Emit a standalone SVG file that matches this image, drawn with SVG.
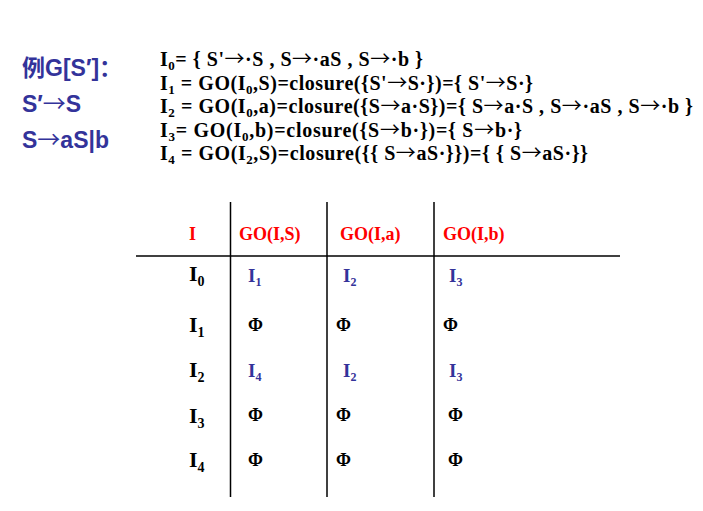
<svg xmlns="http://www.w3.org/2000/svg" width="703" height="511" viewBox="0 0 703 511">
<style>
.lt{font-family:"Liberation Sans",Arial,"Noto Sans CJK SC",sans-serif;font-weight:bold;font-size:23px;fill:#33339a}
.eq{font-family:"Liberation Serif","Times New Roman",serif;font-weight:bold;font-size:20px;fill:#000}
.ar{font-family:"Noto Sans CJK SC",sans-serif;font-weight:normal}
.sub{font-size:13px}
.hd{font-family:"Liberation Serif","Times New Roman",serif;font-weight:bold;font-size:18px;fill:#ff0000}
.rl{font-family:"Liberation Serif","Times New Roman",serif;font-weight:bold;font-size:22px;fill:#000}
.rs{font-size:14px}
.vi{font-family:"Liberation Serif","Times New Roman",serif;font-weight:bold;font-size:19px;fill:#33339a}
.vs{font-size:12px}
.ph{font-family:"Liberation Serif","Times New Roman",serif;font-weight:bold;font-size:18px;fill:#000}
.ln{stroke:#000;stroke-width:1.5;fill:none}
</style>
<rect width="703" height="511" fill="#fff"/>
<g id="grammar">
<text class="lt" x="22" y="76">例G[S′]：</text>
<text class="lt" x="22" y="112">S′<tspan class="ar">→</tspan>S</text>
<text class="lt" x="22" y="148">S<tspan class="ar">→</tspan>aS|b</text>
</g>
<g id="items">
<text class="eq" x="160" y="66" textLength="263" lengthAdjust="spacing">I<tspan class="sub" dy="4">0</tspan><tspan dy="-4">= { S'</tspan><tspan class="ar">→</tspan>·S , S<tspan class="ar">→</tspan>·aS , S<tspan class="ar">→</tspan>·b }</text>
<text class="eq" x="160" y="90" textLength="373" lengthAdjust="spacing">I<tspan class="sub" dy="4">1</tspan><tspan dy="-4"> = GO(I</tspan><tspan class="sub" dy="4">0</tspan><tspan dy="-4">,S)=closure({S'</tspan><tspan class="ar">→</tspan>S·})={ S'<tspan class="ar">→</tspan>S·}</text>
<text class="eq" x="160" y="113" textLength="533" lengthAdjust="spacing">I<tspan class="sub" dy="4">2</tspan><tspan dy="-4"> = GO(I</tspan><tspan class="sub" dy="4">0</tspan><tspan dy="-4">,a)=closure({S</tspan><tspan class="ar">→</tspan>a·S})={ S<tspan class="ar">→</tspan>a·S , S<tspan class="ar">→</tspan>·aS , S<tspan class="ar">→</tspan>·b }</text>
<text class="eq" x="160" y="137" textLength="362" lengthAdjust="spacing">I<tspan class="sub" dy="4">3</tspan><tspan dy="-4">= GO(I</tspan><tspan class="sub" dy="4">0</tspan><tspan dy="-4">,b)=closure({S</tspan><tspan class="ar">→</tspan>b·})={ S<tspan class="ar">→</tspan>b·}</text>
<text class="eq" x="160" y="160" textLength="428" lengthAdjust="spacing">I<tspan class="sub" dy="4">4</tspan><tspan dy="-4"> = GO(I</tspan><tspan class="sub" dy="4">2</tspan><tspan dy="-4">,S)=closure({{ S</tspan><tspan class="ar">→</tspan>aS·}})={ { S<tspan class="ar">→</tspan>aS·}}</text>
</g>
<g id="table-lines">
<line class="ln" x1="136" y1="256" x2="620" y2="256"/>
<line class="ln" x1="230.5" y1="202" x2="230.5" y2="497"/>
<line class="ln" x1="327" y1="202" x2="327" y2="497"/>
<line class="ln" x1="434" y1="202" x2="434" y2="497"/>
</g>
<g id="header">
<text class="hd" x="189" y="240">I</text>
<text class="hd" x="239" y="240">GO(I,S)</text>
<text class="hd" x="340" y="240">GO(I,a)</text>
<text class="hd" x="443" y="240">GO(I,b)</text>
</g>
<g id="row-labels">
<text class="rl" x="189" y="281">I<tspan class="rs" dy="5">0</tspan></text>
<text class="rl" x="189" y="332">I<tspan class="rs" dy="5">1</tspan></text>
<text class="rl" x="189" y="377">I<tspan class="rs" dy="5">2</tspan></text>
<text class="rl" x="189" y="423">I<tspan class="rs" dy="5">3</tspan></text>
<text class="rl" x="189" y="467">I<tspan class="rs" dy="5">4</tspan></text>
</g>
<g id="cells">
<text class="vi" x="248" y="282">I<tspan class="vs" dy="4">1</tspan></text>
<text class="vi" x="343" y="282">I<tspan class="vs" dy="4">2</tspan></text>
<text class="vi" x="449" y="282">I<tspan class="vs" dy="4">3</tspan></text>
<text class="ph" x="248" y="331">Φ</text>
<text class="ph" x="336" y="331">Φ</text>
<text class="ph" x="443" y="331">Φ</text>
<text class="vi" x="248" y="377">I<tspan class="vs" dy="4">4</tspan></text>
<text class="vi" x="343" y="377">I<tspan class="vs" dy="4">2</tspan></text>
<text class="vi" x="449" y="377">I<tspan class="vs" dy="4">3</tspan></text>
<text class="ph" x="248" y="421">Φ</text>
<text class="ph" x="336" y="421">Φ</text>
<text class="ph" x="448" y="421">Φ</text>
<text class="ph" x="248" y="466">Φ</text>
<text class="ph" x="336" y="466">Φ</text>
<text class="ph" x="448" y="466">Φ</text>
</g>
</svg>
